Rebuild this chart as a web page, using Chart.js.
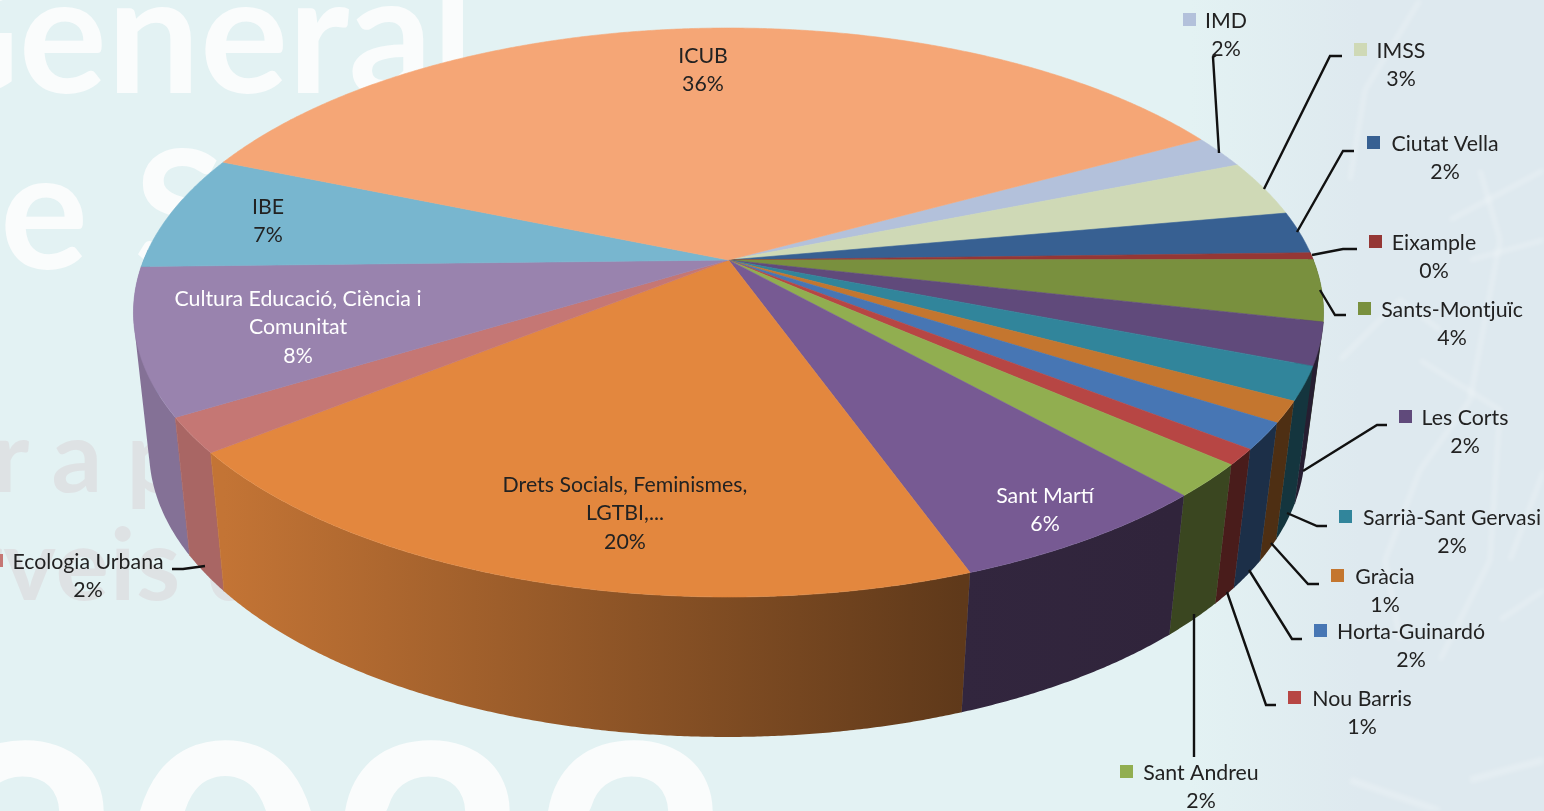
<!DOCTYPE html>
<html>
<head>
<meta charset="utf-8">
<title>Pie 3D</title>
<script src="https://cdn.jsdelivr.net/npm/chart.js@4"></script>
<style>
html, body { margin: 0; padding: 0; width: 1544px; height: 811px; overflow: hidden; }
body { background: #e3f2f3; position: relative; }
#map { position: absolute; left: 1100px; top: 0; width: 444px; height: 811px;
  background: linear-gradient(90deg, rgba(222,233,239,0) 90px, #dee9ef 260px); }
#roads { position: absolute; left: 0; top: 0; filter: blur(2px); }
.bg { position: absolute; font-family: Lato, sans-serif; white-space: pre; line-height: 1; }
#chart { position: absolute; left: 0; top: 0; }
</style>
</head>
<body>
<div id="map"></div>
<svg id="roads" width="1544" height="811" fill="none" stroke="#ffffff" stroke-opacity="0.22" stroke-width="5">
  <path d="M1400 640 L1385 560 L1420 470 L1470 400 L1500 240 L1480 170"/>
  <path d="M1420 0 L1365 90 L1350 180"/>
  <path d="M1420 360 L1500 410 L1490 560 L1440 660"/>
  <path d="M1450 220 L1544 170 M1470 260 L1544 240"/>
  <path d="M1510 560 L1544 470 M1500 620 L1544 590"/>
  <path d="M1350 780 L1440 811 M1470 780 L1544 760" stroke-width="7"/>
  <path d="M1340 360 L1400 300 L1440 330"/>
</svg>
<div class="bg" style="left:-100px;top:-53px;font-size:165px;font-weight:700;color:#fafcfc">General</div>
<div class="bg" style="left:0;top:123px;font-size:165px;font-weight:700;color:#fafcfc;letter-spacing:3px">e S</div>
<div class="bg" style="left:-8px;top:403px;font-size:100px;font-weight:700;color:#dee2e4;letter-spacing:0">r a p</div>
<div class="bg" style="left:-35px;top:511px;font-size:100px;font-weight:700;color:#dee2e4;letter-spacing:1px">rveis d</div>
<div class="bg" style="left:-79px;top:686px;font-size:350px;font-weight:700;color:#fafcfc">2022</div>
<canvas id="chart" width="1544" height="811"></canvas>
<script>
// dades del grafic
var categories = ['IMD', 'IMSS', 'Ciutat Vella', 'Eixample', 'Sants-Montjuïc', 'Les Corts', 'Sarrià-Sant Gervasi',
    'Gràcia', 'Horta-Guinardó', 'Nou Barris', 'Sant Andreu', 'Sant Martí', 'Drets Socials, Feminismes, LGTBI,...',
    'Ecologia Urbana', 'Cultura Educació, Ciència i Comunitat', 'IBE', 'ICUB'];
var values = [1.9, 3.2, 2.4, 0.4, 3.5, 2.4, 1.9, 1.2, 1.5, 0.9, 1.9, 6.2, 19.9, 2.0, 8.3, 6.6, 35.9];
var colors = ['#b3c1db', '#cfd9b6', '#376092', '#953735', '#79903e', '#604a7b', '#31859b', '#c4762f', '#4776b4',
    '#b74644', '#91ae50', '#775a93', '#e3873e', '#c57774', '#9983ae', '#78b6cf', '#f5a676'];

// posicio de les etiquetes: linies, centre x, primera y, x de la clau, color
var labelLayout = [
    { lines: ['IMD'], cx: 1226, y: 21, key: 1183 },
    { lines: ['IMSS'], cx: 1401, y: 51, key: 1354 },
    { lines: ['Ciutat Vella'], cx: 1445, y: 144, key: 1367 },
    { lines: ['Eixample'], cx: 1434, y: 243, key: 1369 },
    { lines: ['Sants-Montjuïc'], cx: 1452, y: 310, key: 1358 },
    { lines: ['Les Corts'], cx: 1465, y: 418, key: 1399 },
    { lines: ['Sarrià-Sant Gervasi'], cx: 1452, y: 518, key: 1339 },
    { lines: ['Gràcia'], cx: 1385, y: 577, key: 1331 },
    { lines: ['Horta-Guinardó'], cx: 1411, y: 632, key: 1314 },
    { lines: ['Nou Barris'], cx: 1362, y: 699, key: 1288 },
    { lines: ['Sant Andreu'], cx: 1201, y: 773, key: 1120 },
    { lines: ['Sant Martí'], cx: 1045, y: 496, key: 972, color: '#ffffff' },
    { lines: ['Drets Socials, Feminismes,', 'LGTBI,...'], cx: 625, y: 485, key: 480 },
    { lines: ['Ecologia Urbana'], cx: 88, y: 562, key: -10 },
    { lines: ['Cultura Educació, Ciència i', 'Comunitat'], cx: 298, y: 299, key: 153, color: '#ffffff' },
    { lines: ['IBE'], cx: 268, y: 207, key: 229 },
    { lines: ['ICUB'], cx: 703, y: 56, key: 658 }
];

// linies guia de les etiquetes de fora
var leaders = [
    [[1219, 153], [1213, 57], [1216, 55]],
    [[1264, 189], [1330, 56], [1342, 56]],
    [[1297, 232], [1343, 151], [1354, 151]],
    [[1312, 255], [1343, 249], [1357, 249]],
    [[1320, 290], [1335, 315], [1346, 315]],
    [[1303, 471], [1377, 425], [1387, 425]],
    [[1287, 513], [1317, 526], [1327, 526]],
    [[1271, 543], [1308, 584], [1319, 584]],
    [[1249, 570], [1292, 639], [1302, 639]],
    [[1227, 592], [1266, 705], [1276, 705]],
    [[1194, 614], [1194, 757]],
    [[205, 566], [183, 569], [172, 569]]
];

// el pla del pastis en perspectiva (cara de dalt i cara de baix)
var K = 0.1846;
var topFace = { x: 728.5, y: 260, ax: 584.8, ay: 274.8 };
var baseFace = { x: 727, y: 397, ax: 568, ay: 277.2 };

function project(face, a) {
    var w = 1 - K * Math.sin(a);
    return [face.x + face.ax * Math.cos(a) / w, face.y + face.ay * Math.sin(a) / w];
}

function steps(a0, a1) {
    return Math.max(2, Math.ceil(Math.abs(a1 - a0) / 0.005));
}

function shade(hex, f) {
    var n = parseInt(hex.slice(1), 16);
    var r = Math.round((n >> 16) * f), g = Math.round(((n >> 8) & 255) * f), b = Math.round((n & 255) * f);
    return 'rgb(' + r + ',' + g + ',' + b + ')';
}

// foscor de la paret segons l'angle
function wallLight(a) {
    var d = a * 180 / Math.PI;
    if (d <= 70) return 0.4;
    if (d >= 141.5) return 0.86;
    return 0.42 + (d - 70) / 71.5 * 0.42;
}

// afegeix un quadrilater sempre amb el mateix sentit, aixi no es cancel.la al omplir
function addQuad(ctx, q) {
    var area = 0;
    for (var i = 0; i < 4; i++) {
        var j = (i + 1) % 4;
        area += q[i][0] * q[j][1] - q[j][0] * q[i][1];
    }
    if (area < 0) q.reverse();
    ctx.moveTo(q[0][0], q[0][1]);
    ctx.lineTo(q[1][0], q[1][1]);
    ctx.lineTo(q[2][0], q[2][1]);
    ctx.lineTo(q[3][0], q[3][1]);
    ctx.closePath();
}

var pie3d = {
    id: 'pie3d',
    beforeDatasetDraw: function(chart) {
        var ctx = chart.ctx;
        var arcs = chart.getDatasetMeta(0).data;
        var minA = -2 * Math.PI / 180, maxA = 182 * Math.PI / 180;
        var walls = [];
        arcs.forEach(function(el, i) {
            var a0 = Math.max(el.startAngle, minA), a1 = Math.min(el.endAngle, maxA);
            if (a1 > a0) walls.push({ i: i, a0: a0, a1: a1 });
        });
        // de fora cap al front
        walls.sort(function(p, q) {
            return Math.abs(q.a0 + q.a1 - Math.PI) - Math.abs(p.a0 + p.a1 - Math.PI);
        });
        walls.forEach(function(w) {
            var x0 = project(baseFace, w.a1)[0], x1 = project(baseFace, w.a0)[0];
            var g = ctx.createLinearGradient(x0, 0, x1, 0);
            g.addColorStop(0, shade(colors[w.i], wallLight(w.a1)));
            g.addColorStop(1, shade(colors[w.i], wallLight(w.a0)));
            // contorn per tapar la junta amb la paret del costat
            ctx.beginPath();
            var e0 = project(topFace, w.a1), e1 = project(baseFace, w.a1);
            ctx.moveTo(e0[0], e0[1]);
            ctx.lineTo(e1[0], e1[1]);
            ctx.strokeStyle = g;
            ctx.lineWidth = 0.8;
            ctx.stroke();
            // tires petites en un sol cami perque la silueta quedi plena i sense ratlles
            var n = steps(w.a0, w.a1);
            ctx.beginPath();
            for (var s = 0; s < n; s++) {
                var a = w.a0 + (w.a1 - w.a0) * s / n, b = w.a0 + (w.a1 - w.a0) * (s + 1) / n;
                addQuad(ctx, [project(topFace, a), project(topFace, b), project(baseFace, b), project(baseFace, a)]);
            }
            ctx.fillStyle = g;
            ctx.fill();
        });
        // cara de dalt
        arcs.forEach(function(el) {
            var n = steps(el.startAngle, el.endAngle);
            ctx.beginPath();
            ctx.moveTo(topFace.x, topFace.y);
            for (var s = 0; s <= n; s++) {
                var p = project(topFace, el.startAngle + (el.endAngle - el.startAngle) * s / n);
                ctx.lineTo(p[0], p[1]);
            }
            ctx.closePath();
            ctx.fillStyle = el.options.backgroundColor;
            ctx.strokeStyle = el.options.backgroundColor;
            ctx.lineWidth = 0.6;
            ctx.fill();
            ctx.stroke();
        });
        return false;
    },
    afterDraw: function(chart) {
        var ctx = chart.ctx;
        ctx.save();
        ctx.strokeStyle = '#111111';
        ctx.lineWidth = 2.4;
        leaders.forEach(function(line) {
            ctx.beginPath();
            line.forEach(function(p, j) {
                if (j === 0) ctx.moveTo(p[0], p[1]); else ctx.lineTo(p[0], p[1]);
            });
            ctx.stroke();
        });
        ctx.font = '21.3px Lato';
        ctx.textAlign = 'center';
        ctx.textBaseline = 'middle';
        labelLayout.forEach(function(lab, i) {
            ctx.fillStyle = colors[i];
            ctx.fillRect(lab.key, lab.y - 8, 13, 13);
            ctx.fillStyle = lab.color || '#222222';
            lab.lines.concat([Math.round(values[i]) + '%']).forEach(function(t, j) {
                ctx.fillText(t, lab.cx, lab.y + j * 28.5);
            });
        });
        ctx.restore();
    }
};

new Chart(document.getElementById('chart').getContext('2d'), {
    type: 'pie',
    data: {
        labels: categories,
        datasets: [{ data: values, backgroundColor: colors, borderWidth: 0 }]
    },
    options: {
        responsive: false,
        animation: false,
        rotation: 61.5,
        plugins: { legend: { display: false }, tooltip: { enabled: false } }
    },
    plugins: [pie3d]
});
</script>
</body>
</html>
